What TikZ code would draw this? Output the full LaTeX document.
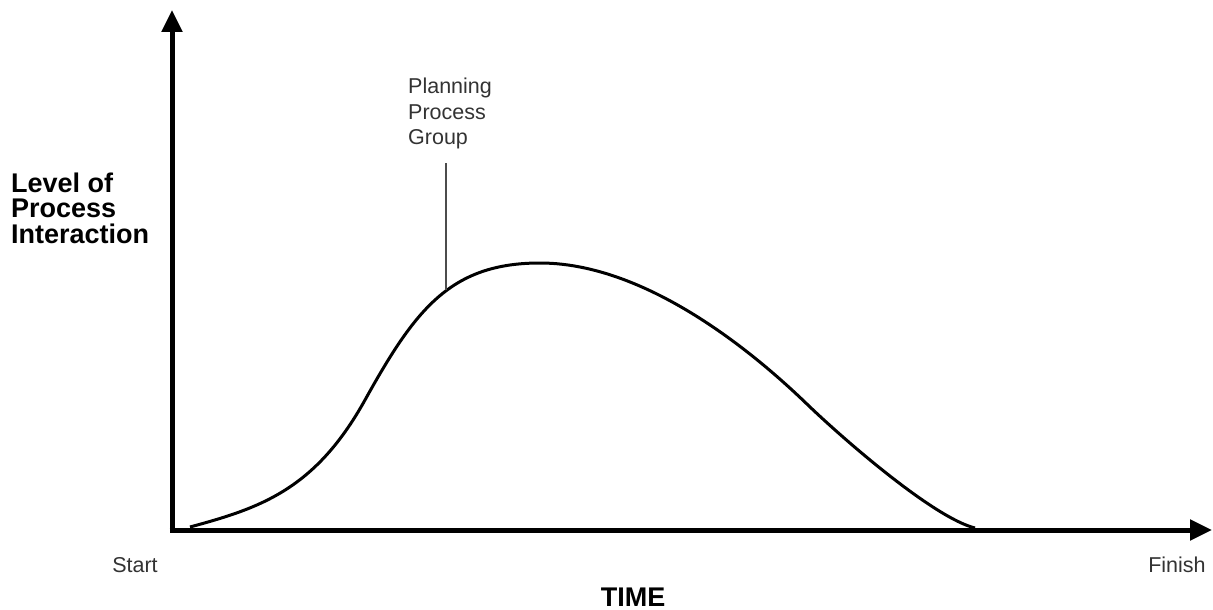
\documentclass[tikz,border=0pt]{standalone}
\usepackage{fontspec}
\setmainfont{Liberation Sans}
\usetikzlibrary{arrows.meta,calc}
\begin{document}
\begin{tikzpicture}[x=1pt,y=-1pt,
  axis/.style={line width=5pt,-{Triangle[length=22pt,width=20pt]}},
  lbl/.style={font=\fontsize{21.5}{25.5}\selectfont,text=black!80,align=left,inner sep=0pt},
  bold/.style={font=\fontsize{27}{25.5}\selectfont\bfseries,align=left,inner sep=0pt}]
\useasboundingbox (0,0) rectangle (1213,610);
\coordinate (o) at (172,530);
\coordinate (ytop) at (172,10);
\coordinate (xend) at (1212,530);
\draw[axis] ($(o)+(0,2.5)$) -- (ytop);
\draw[axis] ($(o)+(-2.5,0)$) -- (xend);
\coordinate (c0) at (190,527);
\coordinate (c1) at (365,400);
\coordinate (cp) at (540,263);
\coordinate (c3) at (810,407);
\coordinate (c4) at (975,528);
\coordinate (lead) at (446,290);
\draw[line width=3pt,line join=round]
  (c0) .. controls (260,508) and (315,490) .. (c1)
       .. controls (415,310) and (450,263) .. (cp)
       .. controls (660,263) and (780,378) .. (c3)
       .. controls (850,445) and (935,518) .. (c4);
\node[lbl,anchor=north west] (plan) at (408,78) {Planning\\Process\\Group};
\draw[line width=1.5pt,black!70] (446,163) -- (lead);
\node[bold,anchor=west] (lvl) at (11,208) {Level of\\Process\\Interaction};
\node[lbl,anchor=center] (start) at (135,565) {Start};
\node[lbl,anchor=center] (finish) at (1177,565) {Finish};
\node[bold,anchor=base] (time) at (633,606) {TIME};
\end{tikzpicture}
\end{document}
